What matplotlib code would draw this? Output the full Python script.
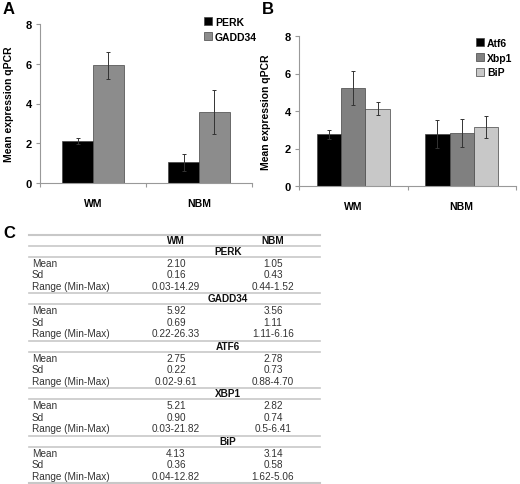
import matplotlib
matplotlib.use("Agg")
import matplotlib.pyplot as plt
from matplotlib.lines import Line2D

plt.rcParams["font.family"] = ["Liberation Sans", "DejaVu Sans"]

groups = ["WM", "NBM"]
genes = ["PERK", "GADD34", "ATF6", "XBP1", "BiP"]
wm_mean = [2.10, 5.92, 2.75, 5.21, 4.13]
wm_sd = [0.16, 0.69, 0.22, 0.90, 0.36]
wm_range = ["0.03-14.29", "0.22-26.33", "0.02-9.61", "0.03-21.82", "0.04-12.82"]
nbm_mean = [1.05, 3.56, 2.78, 2.82, 3.14]
nbm_sd = [0.43, 1.11, 0.73, 0.74, 0.58]
nbm_range = ["0.44-1.52", "1.11-6.16", "0.88-4.70", "0.5-6.41", "1.62-5.06"]

labels_a = ["PERK", "GADD34"]
labels_b = ["Atf6", "Xbp1", "BiP"]
colors_a = ["#000000", "#8c8c8c"]
colors_b = ["#000000", "#808080", "#c8c8c8"]

W, H = 520, 485


def fx(x):
    return x / W


def fy(y):
    return 1 - y / H


fig = plt.figure(figsize=(5.2, 4.85), dpi=100)


def bar_panel(rect, idx, labels, colors, width, legend_xy, ylab_pad):
    ax = fig.add_axes(rect)
    n = len(idx)
    for k, gi in enumerate(idx):
        off = (k - (n - 1) / 2) * width
        means = [wm_mean[gi], nbm_mean[gi]]
        sds = [wm_sd[gi], nbm_sd[gi]]
        xs = [i + off for i in range(len(groups))]
        ax.bar(xs, means, width, color=colors[k], edgecolor="#444444",
               linewidth=0.5, label=labels[k])
        ax.errorbar(xs, means, yerr=sds, fmt="none", ecolor="#333333",
                    elinewidth=0.7, capsize=1.5, capthick=0.7)
    ax.set_xlim(-0.5, 1.5)
    ax.set_ylim(0, 8)
    ax.set_yticks([0, 2, 4, 6, 8])
    ax.set_xticks([0, 1])
    ax.set_xticklabels(groups, fontweight="bold", fontsize=7.5)
    ax.set_xticks([-0.5, 0.5, 1.5], minor=True)
    ax.tick_params(axis="x", which="major", length=0, pad=11)
    ax.tick_params(axis="x", which="minor", length=3, color="#999999", width=0.8)
    ax.tick_params(axis="y", length=3, color="#999999", width=0.8, labelsize=8, pad=3)
    for t in ax.get_yticklabels():
        t.set_fontweight("bold")
    for s in ["top", "right"]:
        ax.spines[s].set_visible(False)
    for s in ["left", "bottom"]:
        ax.spines[s].set_color("#999999")
        ax.spines[s].set_linewidth(0.8)
    ax.set_ylabel("Mean expression qPCR", fontweight="bold", fontsize=7.5,
                  labelpad=ylab_pad)
    ax.legend(loc="upper left", bbox_to_anchor=legend_xy,
              bbox_transform=fig.transFigure, frameon=False,
              handlelength=0.8, handleheight=0.8, handletextpad=0.25,
              labelspacing=0.45, borderpad=0, borderaxespad=0,
              prop={"weight": "bold", "size": 7.5})
    return ax


bar_panel([fx(40), fy(184), fx(212), 159 / H], [0, 1], labels_a, colors_a,
          0.29, (fx(204), fy(18)), 8)
bar_panel([fx(299), fy(187), fx(217), 150 / H], [2, 3, 4], labels_b, colors_b,
          0.225, (fx(476), fy(39)), 10)

fig.text(fx(3), fy(10), "A", fontsize=12, fontweight="bold", va="center")
fig.text(fx(262), fy(10), "B", fontsize=12, fontweight="bold", va="center")
fig.text(fx(3), fy(233), "C", fontsize=12, fontweight="bold", va="center")

# table C
x0, x1 = 29, 320
lab_x, wm_x, nbm_x, head_x = 32, 176, 273, 228
line_col = "#c8c8c8"


def hline(y, lw=1.2):
    fig.add_artist(Line2D([fx(x0), fx(x1)], [fy(y), fy(y)], color=line_col,
                          lw=lw, transform=fig.transFigure))


def cell(x, y, s, bold=False, ha="center"):
    fig.text(fx(x), fy(y), s, fontsize=7.2, ha=ha, va="center",
             fontweight="bold" if bold else "normal",
             color="#111111" if bold else "#333333")


hline(235.5, 1.5)
cell(wm_x, 241.5, "WM", bold=True)
cell(nbm_x, 241.5, "NBM", bold=True)

row_names = ["Mean", "Sd", "Range (Min-Max)"]
for i, g in enumerate(genes):
    h = 252 + 47.5 * i
    hline(h - 5.5)
    cell(head_x, h, g, bold=True)
    hline(h + 5.5)
    vals_wm = [f"{wm_mean[i]:.2f}", f"{wm_sd[i]:.2f}", wm_range[i]]
    vals_nbm = [f"{nbm_mean[i]:.2f}", f"{nbm_sd[i]:.2f}", nbm_range[i]]
    for r in range(3):
        y = h + 12 + 11.5 * r
        cell(lab_x, y, row_names[r], ha="left")
        cell(wm_x, y, vals_wm[r])
        cell(nbm_x, y, vals_nbm[r])
hline(484, 1.5)

fig.savefig("out.png", dpi=100)
